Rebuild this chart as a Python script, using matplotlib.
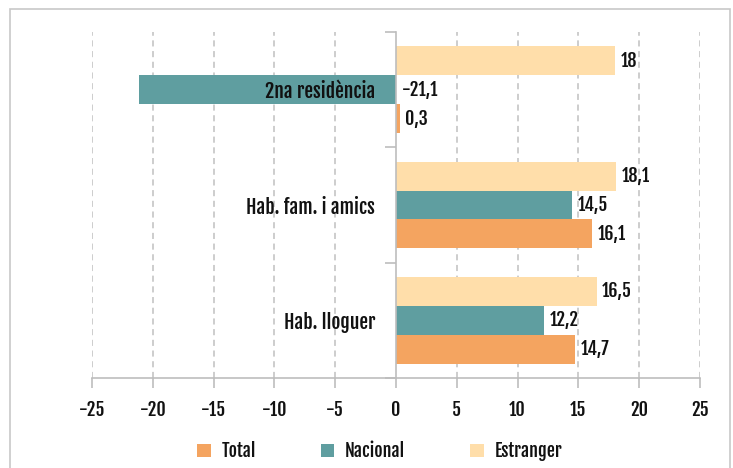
import matplotlib
matplotlib.use("Agg")
import matplotlib.pyplot as plt
from matplotlib.patches import Rectangle
from matplotlib import font_manager as fm
import numpy as np

categories = ["Hab. lloguer", "Hab. fam. i amics", "2na residència"]
series_names = ["Total", "Nacional", "Estranger"]
total = [14.7, 16.1, 0.3]
nacional = [12.2, 14.5, -21.1]
estranger = [16.5, 18.1, 18.0]
xticks = [-25, -20, -15, -10, -5, 0, 5, 10, 15, 20, 25]

colors = {"Total": "#F4A460", "Nacional": "#5F9EA0", "Estranger": "#FFDEAA"}

avail = {f.name for f in fm.fontManager.ttflist}
prefs = ["Fjalla One", "Roboto Condensed", "Saira ExtraCondensed", "Oswald"]
chosen = [f for f in prefs if f in avail][:1]
plt.rcParams["font.family"] = chosen + ["DejaVu Sans"]
plt.rcParams["axes.unicode_minus"] = False
FW = "bold"
FS = 13

fig = plt.figure(figsize=(7.33, 4.68), dpi=100)
ax = fig.add_axes([92/733, 1-378/468, (700-92)/733, (378-32)/468])

# outer border
fig.patches.append(Rectangle((10/733, -0.05), (730-10)/733, 1-9/468+0.05,
                             transform=fig.transFigure, fill=False,
                             edgecolor="#c8c8c8", linewidth=1.2, zorder=-1))

y = np.arange(len(categories))
h = 0.25
data = {"Total": total, "Nacional": nacional, "Estranger": estranger}
offsets = {"Total": -h, "Nacional": 0, "Estranger": h}

def fmt(v):
    if float(v).is_integer():
        return str(int(v))
    return f"{v:.1f}".replace(".", ",")

for name in series_names:
    vals = data[name]
    ax.barh(y + offsets[name], vals, height=h, color=colors[name], label=name, zorder=2)
    for yi, v in zip(y, vals):
        ax.annotate(fmt(v), xy=(max(v, 0), yi + offsets[name]), xytext=(4, 0),
                    textcoords="offset points", ha="left", va="center",
                    fontsize=FS, fontweight=FW, color="#111111", zorder=5)

ax.set_xlim(-25, 25)
ax.set_ylim(-0.5, 2.5)
ax.set_xticks(xticks)
ax.set_xticklabels([str(t) for t in xticks])
ax.set_yticks(y)
ax.set_yticklabels(categories)
ax.set_yticks([-0.5, 0.5, 1.5, 2.5], minor=True)

for s in ["top", "right"]:
    ax.spines[s].set_visible(False)
ax.spines["left"].set_position(("data", 0))
ax.spines["left"].set_color("#bdbdbd")
ax.spines["left"].set_linewidth(1.2)
ax.spines["bottom"].set_color("#bdbdbd")
ax.spines["bottom"].set_linewidth(1.2)
ax.spines["left"].set_zorder(4)
ax.yaxis.set_zorder(6)

ax.tick_params(axis="y", which="major", length=0, pad=15, labelsize=FS + 1, labelcolor="#111111")
ax.tick_params(axis="y", which="minor", length=8, width=1.2, color="#bdbdbd", direction="out")
ax.tick_params(axis="x", which="major", length=7, width=1.2, color="#bdbdbd", pad=9,
               labelsize=FS, labelcolor="#111111")
for lab in ax.get_xticklabels() + ax.get_yticklabels():
    lab.set_fontweight(FW)

for t in xticks:
    if t != 0:
        ax.axvline(t, color="#c0c0c0", linestyle=(0, (4, 3)), linewidth=1.1, zorder=1)

handles, labels = ax.get_legend_handles_labels()
leg = fig.legend(handles, labels, loc="center", bbox_to_anchor=(0.518, 1-451/468), ncol=3,
                 frameon=False, handlelength=0.75, handleheight=0.75, columnspacing=3.6,
                 handletextpad=0.6, prop={"size": FS, "weight": FW})
for t in leg.get_texts():
    t.set_color("#111111")

fig.savefig("out.png", dpi=100)
